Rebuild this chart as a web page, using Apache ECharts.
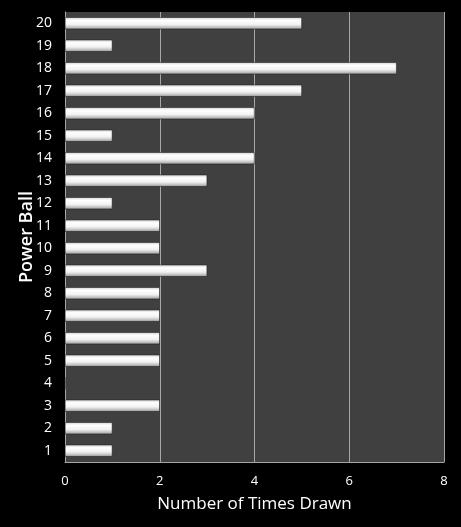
<!DOCTYPE html>
<html><head><meta charset="utf-8">
<script src="https://cdn.jsdelivr.net/npm/echarts@6/dist/echarts.min.js"></script>
<style>html,body{margin:0;padding:0;background:#000;}#c{width:461px;height:527px;}</style>
</head><body><div id="c"></div>
<script>
var categories = ['1','2','3','4','5','6','7','8','9','10','11','12','13','14','15','16','17','18','19','20'];
var timesDrawn = [1,1,2,0,2,2,2,2,3,2,2,1,3,4,1,4,5,7,1,5];
var xTicks = [0,2,4,6,8];

var chart = echarts.init(document.getElementById('c'));
chart.setOption({
  backgroundColor: '#000000',
  animation: false,
  grid: { left: 65, right: 17, top: 12, bottom: 65, show: true, backgroundColor: '#404040', borderWidth: 0 },
  xAxis: {
    type: 'value', min: xTicks[0], max: xTicks[xTicks.length-1], interval: 2,
    name: 'Number of Times Drawn', nameLocation: 'middle', nameGap: 34,
    nameTextStyle: { color: '#ffffff', fontSize: 17, fontFamily: 'Open Sans' },
    axisLine: { show: true, lineStyle: { color: '#a6a6a6', width: 1 } },
    axisTick: { show: false },
    axisLabel: { color: '#ffffff', fontSize: 13, fontFamily: 'Open Sans', margin: 13 },
    splitLine: { show: true, lineStyle: { color: '#a6a6a6', width: 1 } }
  },
  yAxis: {
    type: 'category', data: categories,
    name: 'Power Ball', nameLocation: 'middle', nameGap: 29, nameRotate: 90, nameMoveOverlap: false,
    nameTextStyle: { color: '#ffffff', fontSize: 18, fontFamily: 'Open Sans', fontWeight: 600 },
    axisLine: { show: true, lineStyle: { color: '#a6a6a6', width: 1 } },
    axisTick: { show: false },
    axisLabel: { color: '#ffffff', fontSize: 14, fontFamily: 'Open Sans', margin: 13 },
    splitLine: { show: false }
  },
  series: [{
    type: 'bar', data: timesDrawn, barWidth: 12,
    itemStyle: {
      color: new echarts.graphic.LinearGradient(0,0,0,1,[
        {offset:0, color:'#cfcfcf'},
        {offset:0.25, color:'#ffffff'},
        {offset:0.6, color:'#f2f2f2'},
        {offset:0.85, color:'#bdbdbd'},
        {offset:1, color:'#8a8a8a'}
      ]),
      borderColor: '#1a1a1a', borderWidth: 0.5
    }
  }]
});
</script></body></html>
